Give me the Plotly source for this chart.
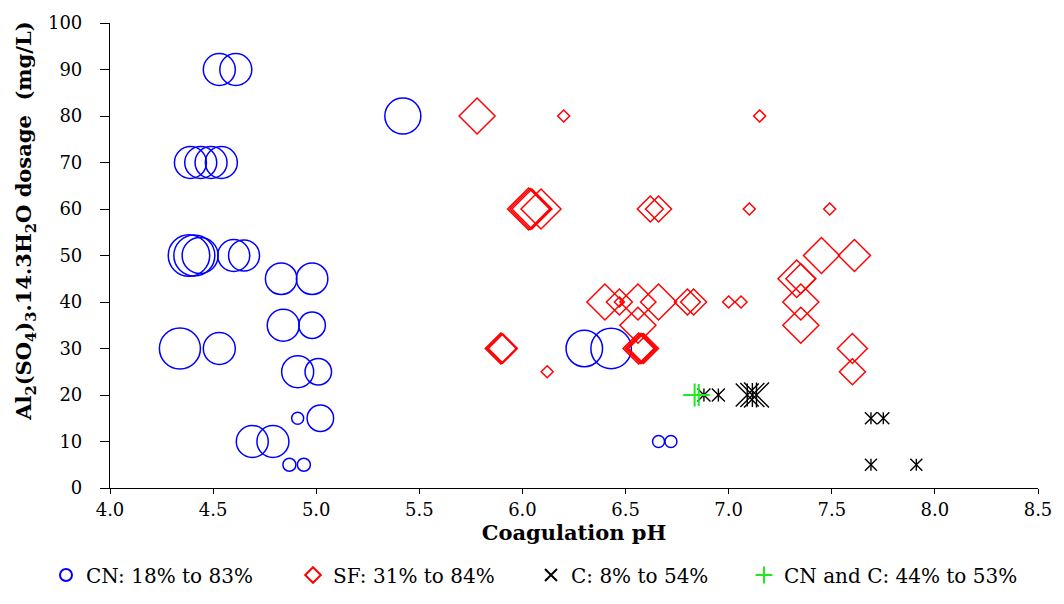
import plotly.graph_objects as go

# Coagulation pH, alum dosage (mg/L) and removal (%) for each test
cn_ph = [4.53, 4.61, 4.39, 4.44, 4.49, 4.54, 4.383, 4.409, 4.437, 4.60, 4.65,
         4.83, 4.98, 4.84, 4.98, 4.339, 4.53, 4.91, 5.01, 4.91, 5.02, 4.69, 4.79,
         4.87, 4.94, 5.42, 6.30, 6.43, 6.66, 6.72]
cn_dose = [90, 90, 70, 70, 70, 70, 50, 50, 50, 50, 50,
           45, 45, 35, 35, 30, 30, 25, 25, 15, 15, 10, 10,
           5, 5, 80, 30, 30, 10, 10]
cn_removal = [64, 64, 64, 64, 64, 64, 83, 82, 72, 64, 62,
              63, 63, 64, 53, 82, 64, 64, 53, 24, 53, 64, 64,
              26, 26, 72, 73, 81, 24, 24]

sf_ph = [5.78, 6.20, 7.15, 6.030, 6.038, 6.046, 6.09, 6.62, 6.66, 7.10, 7.49,
         7.45, 7.61, 7.33, 7.35,
         6.40, 6.47, 6.47, 6.56, 6.66, 6.80, 6.83, 7.00, 7.06, 7.35,
         6.56, 7.35,
         5.895, 5.90, 5.905, 6.563, 6.571, 6.579, 6.587, 7.60,
         6.12, 7.60]
sf_dose = [80, 80, 80, 60, 60, 60, 60, 60, 60, 60, 60,
           50, 50, 45, 45,
           40, 40, 40, 40, 40, 40, 40, 40, 40, 40,
           35, 35,
           30, 30, 30, 30, 30, 30, 30, 30,
           25, 25]
sf_removal = [72, 24, 24, 84, 82, 80, 80, 52, 52, 24, 24,
              72, 64, 75, 60,
              72, 52, 20, 72, 72, 52, 52, 24, 24, 72,
              72, 72,
              62, 60, 58, 62, 60, 60, 60, 60,
              24, 52]

c_ph = [6.88, 6.95, 7.09, 7.115, 7.135, 7.69, 7.75, 7.69, 7.91]
c_dose = [20, 20, 20, 20, 20, 15, 15, 5, 5]
c_removal = [26, 26, 46, 48, 50, 24, 24, 24, 24]

cnc_ph = [6.835, 6.855]
cnc_dose = [20, 20]
cnc_removal = [46, 44]

legend_names = ["CN: 18% to 83%", "SF: 31% to 84%", "C: 8% to 54%",
                "CN and C: 44% to 53%"]

# bubble width in px per % removal
PX = 0.5


def widths(vals, k=1.0):
    return [v * PX / k for v in vals]


BLUE = "#0000ff"
RED = "#ff0000"
GREEN = "#1eea1e"

TICK_FONT = dict(family="DejaVu Serif", size=18, color="black")
TITLE_FONT = dict(family="DejaVu Serif", size=21, color="black")
LEGEND_FONT = dict(family="DejaVu Serif", size=20, color="black")

fig = go.Figure()

fig.add_trace(go.Scatter(
    x=cn_ph, y=cn_dose, mode="markers", name=legend_names[0], legend="legend",
    marker=dict(symbol="circle-open", size=widths(cn_removal), opacity=1,
                color=BLUE, line=dict(width=1.5, color=BLUE)),
))
fig.add_trace(go.Scatter(
    x=sf_ph, y=sf_dose, mode="markers", name=legend_names[1], legend="legend2",
    marker=dict(symbol="diamond-open", size=widths(sf_removal, 1.3), opacity=1,
                color=RED, line=dict(width=1.5, color=RED)),
))
# star marker: a diagonal cross plus a vertical stroke
fig.add_trace(go.Scatter(
    x=c_ph, y=c_dose, mode="markers", name=legend_names[2], legend="legend3",
    legendgroup="c",
    marker=dict(symbol="x-thin-open", size=widths(c_removal), opacity=1,
                color="black", line=dict(width=1.4, color="black")),
))
fig.add_trace(go.Scatter(
    x=c_ph, y=c_dose, mode="markers", showlegend=False, legend="legend3",
    legendgroup="c", hoverinfo="skip",
    marker=dict(symbol="line-ns-open", size=widths(c_removal, 1.4), opacity=1,
                color="black", line=dict(width=1.4, color="black")),
))
fig.add_trace(go.Scatter(
    x=cnc_ph, y=cnc_dose, mode="markers", name=legend_names[3], legend="legend4",
    marker=dict(symbol="cross-thin-open", size=widths(cnc_removal, 1.4), opacity=1,
                color=GREEN, line=dict(width=2, color=GREEN)),
))


def legend_at(px):
    return dict(orientation="h", x=px / 1064, xanchor="left", xref="container",
                y=1 - 575 / 604, yanchor="middle", yref="container",
                font=LEGEND_FONT, itemsizing="constant", itemwidth=30,
                bgcolor="rgba(0,0,0,0)")


fig.update_layout(
    width=1064, height=604,
    margin=dict(l=110, r=20, t=19, b=116),
    paper_bgcolor="white", plot_bgcolor="white",
    showlegend=True,
    legend=legend_at(46), legend2=legend_at(293),
    legend3=legend_at(531), legend4=legend_at(744),
    annotations=[dict(
        text="<b>Al<sub>2</sub>(SO<sub>4</sub>)<sub>3</sub>.14.3H<sub>2</sub>O dosage  (mg/L)</b>",
        textangle=-90, font=TITLE_FONT, showarrow=False,
        xref="paper", yref="paper",
        x=(24 - 110) / 934, y=(488 - 219) / 469,
        xanchor="center", yanchor="middle",
    )],
)

fig.update_xaxes(
    range=[4.0, 8.5], dtick=0.5, tick0=4.0, tickformat=".1f",
    showline=True, linecolor="black", linewidth=1.2, mirror=False,
    ticks="outside", ticklen=5, tickcolor="black", tickwidth=1,
    showgrid=False, zeroline=False, tickfont=TICK_FONT,
    title=dict(text="<b>Coagulation pH</b>", font=TITLE_FONT, standoff=2),
)
fig.update_yaxes(
    range=[0, 100], dtick=10, tick0=0,
    showline=True, linecolor="black", linewidth=1.2, mirror=False,
    ticks="outside", ticklen=9, tickcolor="black", tickwidth=1,
    ticklabelstandoff=14,
    showgrid=False, zeroline=False, tickfont=TICK_FONT,
)

fig.write_html("out.html")
